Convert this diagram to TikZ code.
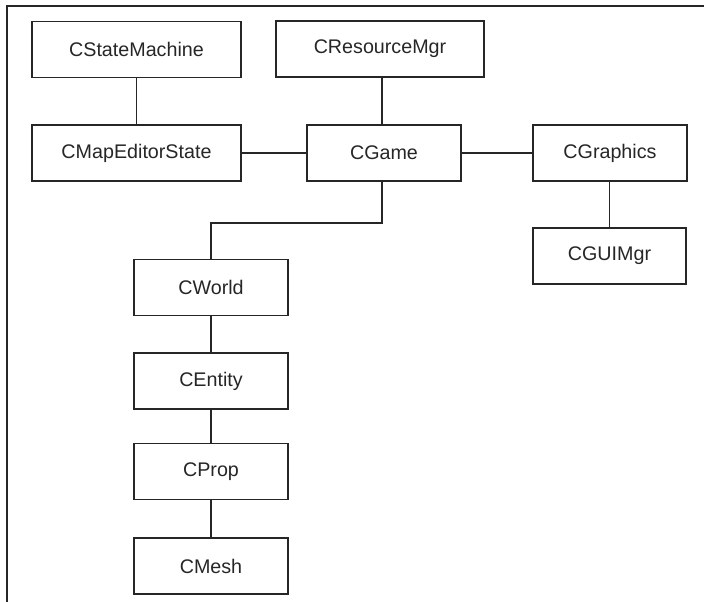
\documentclass[tikz,border=0pt]{standalone}
\usepackage{fontspec}
\setmainfont{Liberation Sans}
\begin{document}
\begin{tikzpicture}[x=1pt,y=-1pt,
  cls/.style={draw=black!85,line width=1.8pt,rectangle,minimum height=56pt,inner sep=0pt,font=\fontsize{19.7}{22}\selectfont,text=black!85},
  link/.style={draw=black!85,line width=1.8pt}]
\useasboundingbox (0,0) rectangle (704,602);
\draw[link] (7,602) -- (7,6) -- (704,6);
\node[cls,minimum width=209pt] (sm) at (136.5,49.5) {CStateMachine};
\node[cls,minimum width=209pt] (mes) at (136.5,153) {CMapEditorState};
\node[cls,minimum width=208pt] (res) at (380,49) {CResourceMgr};
\node[cls,minimum width=154pt] (game) at (384,153) {CGame};
\node[cls,minimum width=154pt] (gfx) at (610,153) {CGraphics};
\node[cls,minimum width=153pt] (gui) at (609.5,256) {CGUIMgr};
\node[cls,minimum width=154pt] (world) at (211,287.5) {CWorld};
\node[cls,minimum width=154pt] (ent) at (211,381) {CEntity};
\node[cls,minimum width=154pt] (prop) at (211,471.5) {CProp};
\node[cls,minimum width=154pt] (mesh) at (211,566) {CMesh};
\coordinate (bend) at (382,223);
\draw[link] (sm) -- (mes);
\draw[link] (mes) -- (game);
\draw[link] (game) -- (gfx);
\draw[link] (gfx.south -| gui.north) -- (gui.north);
\draw[link] (res.south -| bend) -- (game.north -| bend);
\draw[link] (game.south -| bend) -- (bend) -| (world.north);
\draw[link] (world) -- (ent);
\draw[link] (ent) -- (prop);
\draw[link] (prop) -- (mesh);
\end{tikzpicture}
\end{document}
